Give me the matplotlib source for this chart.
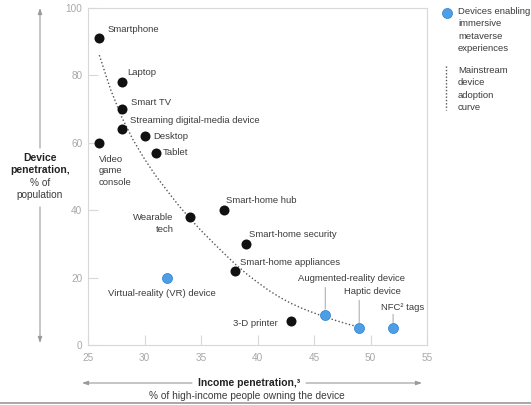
import matplotlib
matplotlib.use("Agg")
import matplotlib.pyplot as plt

plt.rcParams['font.family'] = ['Liberation Sans', 'DejaVu Sans']

# mainstream devices: income penetration (x) vs device penetration (y)
devices = ['Smartphone', 'Laptop', 'Smart TV', 'Streaming digital-media device',
           'Desktop', 'Tablet', 'Video\ngame\nconsole', 'Wearable\ntech',
           'Smart-home hub', 'Smart-home security', 'Smart-home appliances',
           '3-D printer']
income = [26, 28, 28, 28, 30, 31, 26, 34, 37, 39, 38, 43]
penetration = [91, 78, 70, 64, 62, 57, 60, 38, 40, 30, 22, 7]

# devices enabling immersive metaverse experiences
meta_devices = ['Virtual-reality (VR) device', 'Augmented-reality device',
                'Haptic device', 'NFC\u00b2 tags']
meta_income = [32, 46, 49, 52]
meta_penetration = [20, 9, 5, 5]

# adoption curve
curve_x = [26, 27, 28, 29, 30, 31, 32, 33, 34, 35, 36, 37, 38, 39, 40, 41,
           42, 43, 44, 45, 46, 47, 48, 49]
curve_y = [86, 75.8, 67.5, 60.8, 55.2, 50.2, 45.8, 41.5, 37.6, 34.0, 30.6, 27.3,
           24.1, 21.2, 18.6, 16.2, 14.1, 12.3, 10.8, 9.5, 8.3, 7.2, 6.2, 5.3]

TEXT = '#3c3c3c'
GREY = '#a8a8a8'
BLUE = '#4a9fe8'

# label placement: (dx, dy) in points, ha, va
label_pos = [((6, 6.5), 'left', 'center'),
             ((3.5, 7), 'left', 'center'),
             ((6.5, 4.5), 'left', 'center'),
             ((6, 6.5), 'left', 'center'),
             ((6, -0.5), 'left', 'center'),
             ((5, 0.5), 'left', 'center'),
             ((-0.5, -8.5), 'left', 'top'),
             ((-11.5, 2.5), 'right', 'top'),
             ((2, 7), 'left', 'center'),
             ((2, 6.5), 'left', 'center'),
             ((3.5, 6), 'left', 'center'),
             ((-10, -1.5), 'right', 'center')]
meta_label_pos = [(-4, -11.5), (19, 26), (9.5, 26.5), (6.5, 15)]
leader_len = [0, 19.5, 20, 10]

fig = plt.figure(figsize=(5.31, 4.05), dpi=100)
ax = fig.add_axes([88 / 531, 60 / 405, 339 / 531, 337 / 405])

ax.plot(curve_x, curve_y, linestyle=(0, (1, 1.6)), color='#555555', lw=1.0, zorder=1)
ax.scatter(income, penetration, s=52, color='#111111', zorder=3, linewidths=0)
ax.scatter(meta_income, meta_penetration, s=52, color=BLUE, zorder=3,
           edgecolors='#2f7fc4', linewidths=0.5)

for name, x, y, (off, ha, va) in zip(devices, income, penetration, label_pos):
    ax.annotate(name, (x, y), xytext=off, textcoords='offset points',
                ha=ha, va=va, fontsize=6.8, color=TEXT, multialignment=ha,
                linespacing=1.4)

for name, x, y, off, lead in zip(meta_devices, meta_income, meta_penetration,
                                 meta_label_pos, leader_len):
    ax.annotate(name, (x, y), xytext=off, textcoords='offset points',
                ha='center', va='center', fontsize=6.8, color=TEXT)
    if lead:
        ax.annotate('', (x, y), xytext=(0, lead), textcoords='offset points',
                    arrowprops=dict(arrowstyle='-', color='#b0b0b0', lw=0.8,
                                    shrinkA=0, shrinkB=4))

ax.set_xlim(25, 55)
ax.set_ylim(0, 100)
ax.set_xticks([25, 30, 35, 40, 45, 50, 55])
ax.set_yticks([0, 20, 40, 60, 80, 100])
ax.tick_params(direction='in', length=7, width=0.8, color='#d8d8d8',
               labelcolor=GREY, labelsize=7.2)
ax.tick_params(axis='x', pad=6)
ax.tick_params(axis='y', pad=4)
for sp in ax.spines.values():
    sp.set_color('#d8d8d8')
    sp.set_linewidth(0.8)


def fx(px):
    return px / 531


def fy(py):
    return 1 - py / 405


arrow = dict(arrowstyle='-|>,head_length=0.35,head_width=0.12', color='#9a9a9a',
             lw=0.8, shrinkA=0, shrinkB=0)

# y-axis title with arrows
fig.text(fx(40), fy(164.5), 'Device\npenetration,', ha='center', va='center',
         fontsize=7.5, fontweight='bold', color='#222222', linespacing=1.25)
fig.text(fx(40), fy(189.5), '% of\npopulation', ha='center', va='center',
         fontsize=7.3, color=TEXT, linespacing=1.25)
fig.add_artist(plt.Annotation('', xy=(fx(40), fy(8)), xytext=(fx(40), fy(148)),
                              xycoords='figure fraction', arrowprops=arrow))
fig.add_artist(plt.Annotation('', xy=(fx(40), fy(343)), xytext=(fx(40), fy(207)),
                              xycoords='figure fraction', arrowprops=arrow))

# x-axis title with arrows
fig.text(fx(249), fy(383), 'Income penetration,\u00b3', ha='center', va='center',
         fontsize=7.5, fontweight='bold', color='#222222')
fig.text(fx(247), fy(396), '% of high-income people owning the device',
         ha='center', va='center', fontsize=7.3, color=TEXT)
fig.add_artist(plt.Annotation('', xy=(fx(82), fy(383)), xytext=(fx(192), fy(383)),
                              xycoords='figure fraction', arrowprops=arrow))
fig.add_artist(plt.Annotation('', xy=(fx(422), fy(383)), xytext=(fx(306), fy(383)),
                              xycoords='figure fraction', arrowprops=arrow))

# legend
fig.add_artist(plt.Line2D([fx(446.7)], [fy(13)], marker='o', markersize=7.2,
                          color=BLUE, markeredgecolor='#2f7fc4', markeredgewidth=0.5,
                          linestyle='none'))
fig.text(fx(458), fy(30), 'Devices enabling\nimmersive\nmetaverse\nexperiences',
         ha='left', va='center', fontsize=6.8, color=TEXT, linespacing=1.5)
fig.add_artist(plt.Line2D([fx(445.7), fx(445.7)], [fy(66), fy(110)],
                          linestyle=(0, (1, 1.4)), color='#555555', lw=1.0))
fig.text(fx(458), fy(89), 'Mainstream\ndevice\nadoption\ncurve',
         ha='left', va='center', fontsize=6.8, color=TEXT, linespacing=1.5)

# bottom rule
fig.add_artist(plt.Line2D([0, 1], [fy(402.5), fy(402.5)], color='#9a9a9a', lw=1.2))

fig.savefig('out.png', dpi=100)
